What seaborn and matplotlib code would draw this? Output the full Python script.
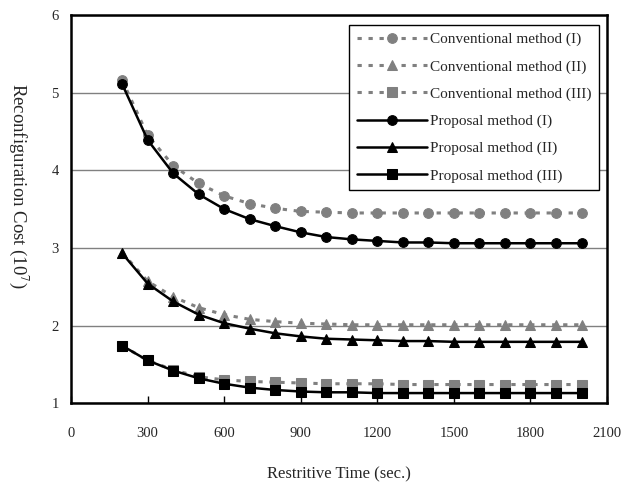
import pandas as pd
import numpy as np
import seaborn as sns
import matplotlib
matplotlib.use("Agg")
import matplotlib.pyplot as plt

# Dados (custo em 10^7)
tempo = [200, 300, 400, 500, 600, 700, 800, 900, 1000, 1100,
         1200, 1300, 1400, 1500, 1600, 1700, 1800, 1900, 2000]

conv_1 = [5.16, 4.45, 4.06, 3.83, 3.67, 3.57, 3.51, 3.47, 3.46, 3.45,
          3.45, 3.45, 3.45, 3.45, 3.45, 3.45, 3.45, 3.45, 3.45]
conv_2 = [2.94, 2.57, 2.37, 2.23, 2.14, 2.08, 2.05, 2.03, 2.02, 2.01,
          2.01, 2.01, 2.01, 2.01, 2.01, 2.01, 2.01, 2.01, 2.01]
conv_3 = [1.74, 1.55, 1.43, 1.34, 1.30, 1.28, 1.27, 1.26, 1.25, 1.25,
          1.25, 1.24, 1.24, 1.24, 1.24, 1.24, 1.24, 1.24, 1.24]
prop_1 = [5.11, 4.39, 3.96, 3.69, 3.50, 3.37, 3.28, 3.20, 3.14, 3.11,
          3.09, 3.07, 3.07, 3.06, 3.06, 3.06, 3.06, 3.06, 3.06]
prop_2 = [2.93, 2.54, 2.31, 2.14, 2.03, 1.96, 1.90, 1.86, 1.83, 1.82,
          1.81, 1.80, 1.80, 1.79, 1.79, 1.79, 1.79, 1.79, 1.79]
prop_3 = [1.74, 1.55, 1.42, 1.32, 1.25, 1.20, 1.17, 1.15, 1.14, 1.14,
          1.13, 1.13, 1.13, 1.13, 1.13, 1.13, 1.13, 1.13, 1.13]

series = [
    ("Conventional method (I)", conv_1, "o", "#808080", (0, (1.4, 2.2))),
    ("Conventional method (II)", conv_2, "^", "#808080", (0, (1.4, 2.2))),
    ("Conventional method (III)", conv_3, "s", "#808080", (0, (1.4, 2.2))),
    ("Proposal method (I)", prop_1, "o", "black", "-"),
    ("Proposal method (II)", prop_2, "^", "black", "-"),
    ("Proposal method (III)", prop_3, "s", "black", "-"),
]

sns.set_style("white")
plt.rcParams['font.family'] = ['Liberation Serif', 'DejaVu Serif']
plt.rcParams['mathtext.fontset'] = 'stix'

fig = plt.figure(figsize=(6.35, 4.84), dpi=100)
ax = fig.add_axes([0.112, 0.167, 0.844, 0.802])

for nome, valores, marcador, cor, estilo in series:
    df = pd.DataFrame({'tempo': tempo, 'custo': valores})
    lw = 2.2 if cor != "black" else 1.8
    sns.lineplot(data=df, x='tempo', y='custo', ax=ax, color=cor,
                 marker=marcador, markersize=7, markeredgecolor=cor,
                 linestyle=estilo, linewidth=lw, label=nome)

ax.set_xlim(0, 2100)
ax.set_ylim(1, 6)
ax.set_xticks(np.arange(0, 2101, 300))
ax.set_yticks(np.arange(1, 7, 1))
ax.yaxis.grid(True, color='#808080', linewidth=1)
ax.xaxis.grid(False)

for s in ax.spines.values():
    s.set_visible(True)
    s.set_color('black')
    s.set_linewidth(1.8)

ax.tick_params(axis='x', direction='in', length=5, width=1, bottom=True,
               pad=17, labelsize=10.5, color='black')
ax.tick_params(axis='y', length=0, pad=9, labelsize=10.5)

ax.set_xlabel('Restritive Time (sec.)', fontsize=12, labelpad=19)
ax.set_ylabel('Reconfiguration Cost (10$^{7}$)', fontsize=13.5,
              rotation=270, va='center')
ax.yaxis.set_label_coords(-0.098, 0.56)

leg = ax.legend(loc='upper right', bbox_to_anchor=(0.985, 0.975),
                borderaxespad=0, fontsize=11, handlelength=4.6,
                labelspacing=0.88, fancybox=False, frameon=True,
                handletextpad=0.2, borderpad=0.5)
leg.get_frame().set_edgecolor('black')
leg.get_frame().set_linewidth(1)
leg.get_frame().set_alpha(1)

fig.savefig('out.png', dpi=100)
